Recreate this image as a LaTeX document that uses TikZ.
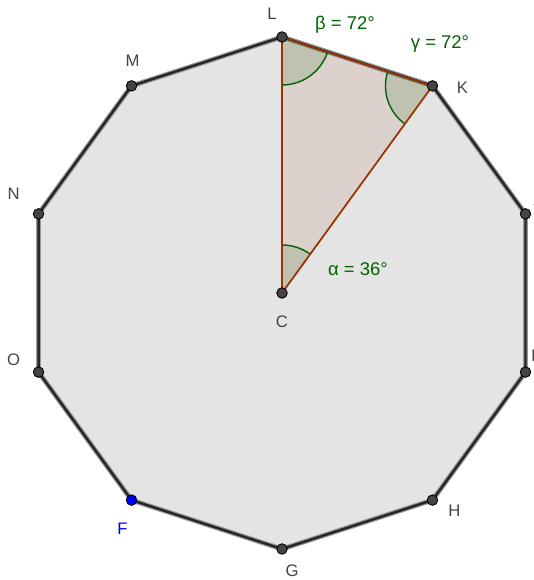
\documentclass[tikz,border=0pt]{standalone}
\usepackage{fontspec}
\setmainfont{Liberation Sans}
\usetikzlibrary{calc}
\definecolor{polyfill}{RGB}{228,228,228}
\definecolor{segbrown}{RGB}{153,51,0}
\definecolor{anggreen}{RGB}{0,100,0}
\definecolor{ptgray}{RGB}{68,68,68}
\definecolor{lblgray}{RGB}{68,68,68}
\definecolor{ptblue}{RGB}{0,0,255}

\begin{document}
\begin{tikzpicture}[x=0.02cm,y=0.02cm,font=\fontsize{9.5}{11}\selectfont,
  pt/.style={circle,draw=black,fill=ptgray,inner sep=0pt,minimum size=0.21cm,line width=0.5pt},
  lbl/.style={text=lblgray,inner sep=0pt},
  ang/.style={text=anggreen,inner sep=0pt,font=\fontsize{10.5}{12}\selectfont}]
\useasboundingbox (0,0) rectangle (533,580);
\coordinate (C) at (282,287);
\foreach \a/\n in {90/L,54/K,18/J,-18/I,-54/H,-90/G,-126/F,-162/O,162/N,126/M}{
\coordinate (\n) at ($(C)+(\a:256)$);}
% decagon
\fill[polyfill] (F)--(G)--(H)--(I)--(J)--(K)--(L)--(M)--(N)--(O)--cycle;
\draw[black!40,line width=2.8pt,line join=round] (F)--(G)--(H)--(I)--(J)--(K)--(L)--(M)--(N)--(O)--cycle;
\draw[black!85,line width=1.4pt,line join=round] (F)--(G)--(H)--(I)--(J)--(K)--(L)--(M)--(N)--(O)--cycle;
% triangle C-L-K
\fill[segbrown,fill opacity=0.1] (C)--(L)--(K)--cycle;
% angles
\fill[anggreen,fill opacity=0.13] (L)--++(-90:48) arc[start angle=-90,end angle=-18,radius=48]--cycle;
\fill[anggreen,fill opacity=0.13] (K)--++(162:47) arc[start angle=162,end angle=234,radius=47]--cycle;
\fill[anggreen,fill opacity=0.13] (C)--++(54:48) arc[start angle=54,end angle=90,radius=48]--cycle;
\draw[anggreen,line width=0.8pt] ($(L)+(-90:48)$) arc[start angle=-90,end angle=-18,radius=48];
\draw[anggreen,line width=0.8pt] ($(K)+(162:47)$) arc[start angle=162,end angle=234,radius=47];
\draw[anggreen,line width=0.8pt] ($(C)+(54:48)$) arc[start angle=54,end angle=90,radius=48];
\draw[segbrown,line width=1pt,line join=round] (C)--(L)--(K)--cycle;
% points and labels
\foreach \n/\dx/\dy in {L/-10/23,K/30/-2,J/12/12,I/8/16,H/22/-11,G/10/-22,O/-25/12,N/-25/20,M/1/25,C/0/-29}{
\node[pt] (p\n) at (\n) {};
\node[lbl] (t\n) at ($(\n)+(\dx,\dy)$) {\n};}
\node[pt,fill=ptblue] (pF) at (F) {};
\node[lbl,text=ptblue] (tF) at ($(F)+(-9,-29)$) {F};
\node[ang] (angB) at (345,555) {β = 72°};
\node[ang] (angG) at (440,536) {γ = 72°};
\node[ang] (angA) at (358,311) {α = 36°};
\end{tikzpicture}
\end{document}
